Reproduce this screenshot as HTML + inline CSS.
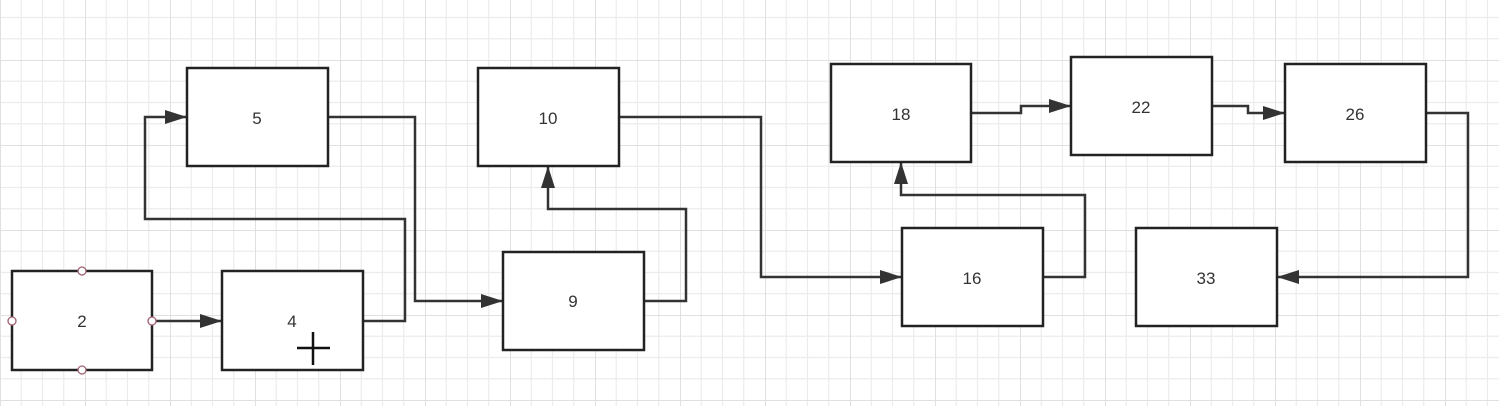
<!DOCTYPE html>
<html><head><style>
html,body{margin:0;padding:0;background:#fff;}
svg{display:block;}
text{font-family:"Liberation Sans",sans-serif;font-size:17px;fill:#333;}
</style></head><body>
<svg width="1499" height="406" xmlns="http://www.w3.org/2000/svg">
<defs>
<pattern id="g" x="0" y="-25" width="85" height="85" patternUnits="userSpaceOnUse">
<path d="M21.25 0V85M42.5 0V85M63.75 0V85M0 21.25H85M0 42.5H85M0 63.75H85" stroke="#ececec" stroke-width="1.2" fill="none"/>
<path d="M0 0V85M0 0H85" stroke="#e0e0e0" stroke-width="2" fill="none"/>
</pattern>
<marker id="a" markerWidth="22" markerHeight="16" refX="21" refY="8" orient="auto" markerUnits="userSpaceOnUse">
<path d="M0 1L22 8L0 15Z" fill="#333"/>
</marker>
</defs>
<rect width="1499" height="406" fill="url(#g)"/>
<g fill="none" stroke="#333" stroke-width="2.5">
<path d="M152 321H221" marker-end="url(#a)"/>
<path d="M363 321H405V219H145V117H186" marker-end="url(#a)"/>
<path d="M328 117H415V301H502" marker-end="url(#a)"/>
<path d="M644 301H686V209H548V167" marker-end="url(#a)"/>
<path d="M619 117H761V277H901" marker-end="url(#a)"/>
<path d="M1043 277H1085V195H901V163" marker-end="url(#a)"/>
<path d="M971 113H1021V106H1070" marker-end="url(#a)"/>
<path d="M1212 106H1248V113H1284" marker-end="url(#a)"/>
<path d="M1426 113H1468V277H1278" marker-end="url(#a)"/>
</g>
<g fill="#fff" stroke="#222" stroke-width="2.5">
<rect x="12" y="271" width="140" height="99"/>
<rect x="222" y="271" width="141" height="99"/>
<rect x="187" y="68" width="141" height="98"/>
<rect x="478" y="68" width="141" height="98"/>
<rect x="503" y="252" width="141" height="98"/>
<rect x="831" y="64" width="140" height="98"/>
<rect x="1071" y="57" width="141" height="98"/>
<rect x="1285" y="64" width="141" height="98"/>
<rect x="902" y="228" width="141" height="98"/>
<rect x="1136" y="228" width="141" height="98"/>
</g>
<g fill="#fff" stroke="#a06070" stroke-width="1.3">
<circle cx="82" cy="271" r="4"/><circle cx="82" cy="370" r="4"/>
<circle cx="12" cy="321" r="4"/><circle cx="152" cy="321" r="4"/>
</g>
<path d="M297 348H330M313 332V365" stroke="#111" stroke-width="2.5"/>
<g text-anchor="middle">
<text x="82" y="327">2</text>
<text x="292" y="327">4</text>
<text x="257" y="124">5</text>
<text x="548" y="124">10</text>
<text x="573" y="307">9</text>
<text x="901" y="120">18</text>
<text x="1141" y="113">22</text>
<text x="1355" y="120">26</text>
<text x="972" y="284">16</text>
<text x="1206" y="284">33</text>
</g>
</svg>
</body></html>
